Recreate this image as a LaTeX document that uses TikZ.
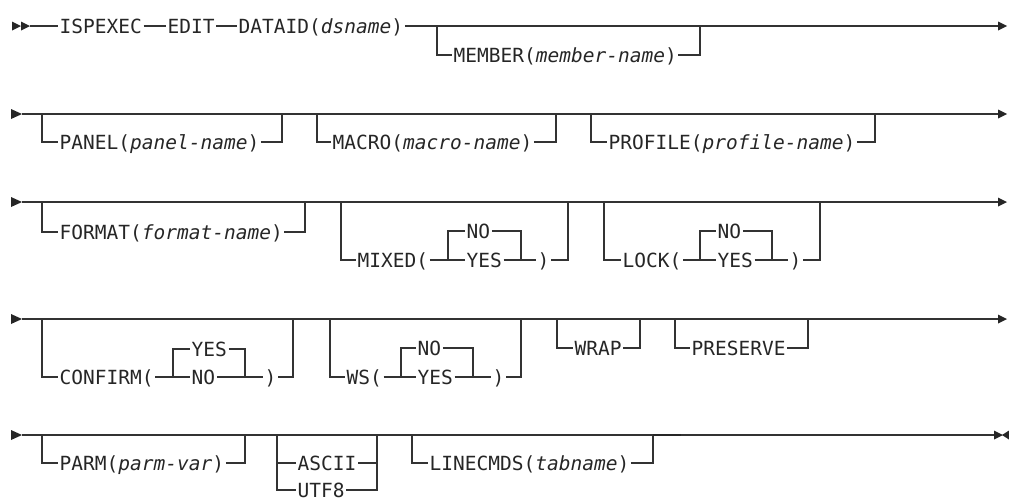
\documentclass[tikz,border=0pt]{standalone}
\usepackage{fontspec}
\newfontfamily\railfont{DejaVu Sans Mono}
\usetikzlibrary{calc}
\def\tri(#1,#2){\fill[black!85] (#1,#2-4.5) -- (#1+9,#2) -- (#1,#2+4.5) -- cycle;}
\def\bigtri(#1,#2){\fill[black!85] (#1,#2-5) -- (#1+11,#2) -- (#1,#2+5) -- cycle;}
\def\irt(#1,#2){\fill[black!85] (#1,#2-4.5) -- (#1-7,#2) -- (#1,#2+4.5) -- cycle;}
\tikzset{
  rail/.style={line width=1.2pt, draw=black!80},
  tok/.style={anchor=west, inner xsep=1.5pt, inner ysep=0pt, text height=14pt, text depth=0pt,
    font={\railfont\fontsize{19.5pt}{22pt}\selectfont}, text=black!85},
}

\begin{document}
\begin{tikzpicture}[x=1pt, y=-1pt]
	%%%%% START %%%%%
	\useasboundingbox (0,0) rectangle (1009,499);
	
	% row 1
	\tri(12,26) \tri(21,26)
	\coordinate (r1s) at (30,26);
	\coordinate (r1e) at (998,26);
	\node[tok] (ispexec) at (58,26) {ISPEXEC};
	\node[tok] (edit) at (166,26) {EDIT};
	\node[tok] (dataid) at (237,26) {DATAID(\textit{dsname})};
	\draw[rail] (r1s) -- (ispexec.west) (ispexec.east) -- (edit.west) (edit.east) -- (dataid.west) (dataid.east) -- (r1e);
	\tri(998,26)
	
	\coordinate (mb1) at (437,26);
	\coordinate (mb2) at (700,26);
	\node[tok] (member) at (452,55) {MEMBER(\textit{member-name})};
	\draw[rail] (mb1) |- (member.west) (member.east) -| (mb2);
	
	% row 2
	\bigtri(11,114)
	\coordinate (r2s) at (22,114);
	\coordinate (r2e) at (998,114);
	\draw[rail] (r2s) -- (r2e);
	\tri(998,114)
	
	\coordinate (pn1) at (42,114);
	\coordinate (pn2) at (282,114);
	\node[tok] (panel) at (58,142) {PANEL(\textit{panel-name})};
	\draw[rail] (pn1) |- (panel.west) (panel.east) -| (pn2);
	
	\coordinate (mc1) at (317,114);
	\coordinate (mc2) at (556,114);
	\node[tok] (macro) at (331,142) {MACRO(\textit{macro-name})};
	\draw[rail] (mc1) |- (macro.west) (macro.east) -| (mc2);
	
	\coordinate (pf1) at (591,114);
	\coordinate (pf2) at (875,114);
	\node[tok] (profile) at (607,142) {PROFILE(\textit{profile-name})};
	\draw[rail] (pf1) |- (profile.west) (profile.east) -| (pf2);
	
	% row 3
	\bigtri(11,202)
	\coordinate (r3s) at (22,202);
	\coordinate (r3e) at (998,202);
	\draw[rail] (r3s) -- (r3e);
	\tri(998,202)
	
	\coordinate (fm1) at (42,202);
	\coordinate (fm2) at (305,202);
	\node[tok] (format) at (58,232) {FORMAT(\textit{format-name})};
	\draw[rail] (fm1) |- (format.west) (format.east) -| (fm2);
	
	\coordinate (mx1) at (341,202);
	\coordinate (mx2) at (568,202);
	\coordinate (mxl) at (448,260);
	\coordinate (mxr) at (521,260);
	\node[tok] (mixed) at (356,260) {MIXED(};
	\node[tok] (mixno) at (465,231) {NO};
	\node[tok] (mixyes) at (465,260) {YES};
	\node[tok] (mixcl) at (536,260) {)};
	\draw[rail] (mx1) |- (mixed.west) (mixed.east) -- (mxl) -- (mixyes.west) (mixyes.east) -- (mxr) -- (mixcl.west) (mixcl.east) -| (mx2);
	\draw[rail] (mxl) |- (mixno.west) (mixno.east) -| (mxr);
	
	\coordinate (lk1) at (604,202);
	\coordinate (lk2) at (820,202);
	\coordinate (lkl) at (700,260);
	\coordinate (lkr) at (772,260);
	\node[tok] (lock) at (621,260) {LOCK(};
	\node[tok] (lockno) at (716,231) {NO};
	\node[tok] (lockyes) at (716,260) {YES};
	\node[tok] (lockcl) at (788,260) {)};
	\draw[rail] (lk1) |- (lock.west) (lock.east) -- (lkl) -- (lockyes.west) (lockyes.east) -- (lkr) -- (lockcl.west) (lockcl.east) -| (lk2);
	\draw[rail] (lkl) |- (lockno.west) (lockno.east) -| (lkr);
	
	% row 4
	\bigtri(11,319)
	\coordinate (r4s) at (22,319);
	\coordinate (r4e) at (998,319);
	\draw[rail] (r4s) -- (r4e);
	\tri(998,319)
	
	\coordinate (cf1) at (42,319);
	\coordinate (cf2) at (293,319);
	\coordinate (cfl) at (173,377);
	\coordinate (cfr) at (245,377);
	\node[tok] (confirm) at (58,377) {CONFIRM(};
	\node[tok] (cfyes) at (190,349) {YES};
	\node[tok] (cfno) at (190,377) {NO};
	\node[tok] (cfcl) at (263,377) {)};
	\draw[rail] (cf1) |- (confirm.west) (confirm.east) -- (cfl) -- (cfno.west) (cfno.east) -- (cfr) -- (cfcl.west) (cfcl.east) -| (cf2);
	\draw[rail] (cfl) |- (cfyes.west) (cfyes.east) -| (cfr);
	
	\coordinate (ws1) at (330,319);
	\coordinate (ws2) at (521,319);
	\coordinate (wsl) at (401,377);
	\coordinate (wsr) at (473,377);
	\node[tok] (ws) at (345,377) {WS(};
	\node[tok] (wsno) at (416,348) {NO};
	\node[tok] (wsyes) at (416,377) {YES};
	\node[tok] (wscl) at (491,377) {)};
	\draw[rail] (ws1) |- (ws.west) (ws.east) -- (wsl) -- (wsyes.west) (wsyes.east) -- (wsr) -- (wscl.west) (wscl.east) -| (ws2);
	\draw[rail] (wsl) |- (wsno.west) (wsno.east) -| (wsr);
	
	\coordinate (wr1) at (557,319);
	\coordinate (wr2) at (640,319);
	\node[tok] (wrap) at (573,348) {WRAP};
	\draw[rail] (wr1) |- (wrap.west) (wrap.east) -| (wr2);
	
	\coordinate (pr1) at (675,319);
	\coordinate (pr2) at (808,319);
	\node[tok] (preserve) at (690,348) {PRESERVE};
	\draw[rail] (pr1) |- (preserve.west) (preserve.east) -| (pr2);
	
	% row 5
	\bigtri(11,435)
	\coordinate (r5s) at (22,435);
	\coordinate (r5e) at (994,435);
	\draw[rail] (r5s) -- (r5e);
	\tri(994,435) \irt(1009,435)
	
	\coordinate (pm1) at (42,435);
	\coordinate (pm2) at (245,435);
	\node[tok] (parm) at (58,463) {PARM(\textit{parm-var})};
	\draw[rail] (pm1) |- (parm.west) (parm.east) -| (pm2);
	
	\coordinate (cs1) at (277,435);
	\coordinate (cs2) at (377,435);
	\node[tok] (ascii) at (296,463) {ASCII};
	\node[tok] (utf) at (296,490) {UTF8};
	\draw[rail] (cs1) |- (utf.west) (utf.east) -| (cs2);
	\draw[rail] (cs1) |- (ascii.west) (ascii.east) -| (cs2);
	
	\coordinate (lc1) at (412,435);
	\coordinate (lc2) at (653,435);
	\coordinate (lc3) at (681,435);
	\node[tok] (linecmds) at (428,463) {LINECMDS(\textit{tabname})};
	\draw[rail] (lc1) |- (linecmds.west) (linecmds.east) -| (lc2);
	\draw[line width=2.4pt, black!85] (lc2) -- (lc3);
	
	%%%%% END %%%%%
\end{tikzpicture}
\end{document}
